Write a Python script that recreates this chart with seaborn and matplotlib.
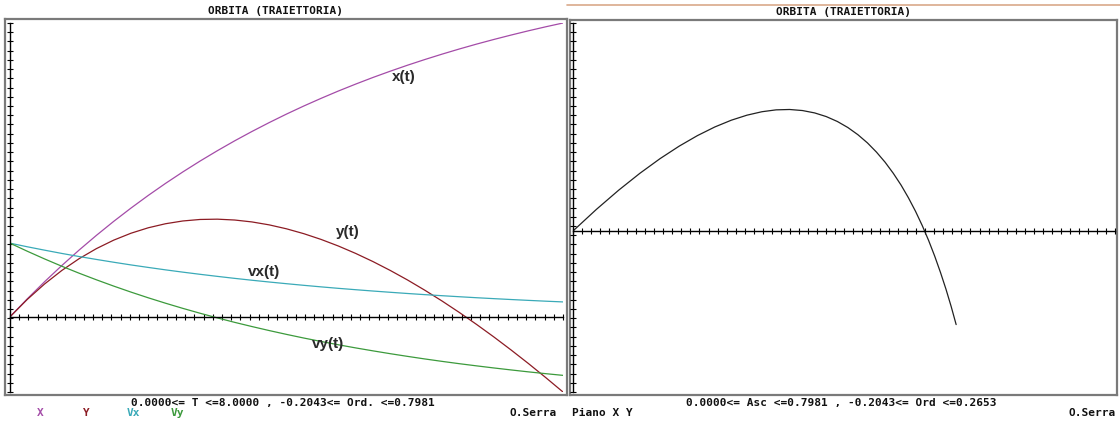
import numpy as np
import pandas as pd
import matplotlib
matplotlib.use('Agg')
import matplotlib.pyplot as plt
import seaborn as sns

sns.set_style('white')
plt.rcParams['font.family'] = ['DejaVu Sans Mono', 'DejaVu Sans']

# values (time step 0.25)
t = [0.0, 0.25, 0.5, 0.75, 1.0, 1.25, 1.5, 1.75, 2.0, 2.25, 2.5, 2.75, 3.0, 3.25, 3.5, 3.75,
     4.0, 4.25, 4.5, 4.75, 5.0, 5.25, 5.5, 5.75, 6.0, 6.25, 6.5, 6.75, 7.0, 7.25, 7.5, 7.75, 8.0]
x = [0.0, 0.0488, 0.0952, 0.1393, 0.1813, 0.2212, 0.2592, 0.2953, 0.3297, 0.3624, 0.3935,
     0.4231, 0.4512, 0.4780, 0.5034, 0.5276, 0.5507, 0.5726, 0.5934, 0.6133, 0.6321, 0.6501,
     0.6671, 0.6834, 0.6988, 0.7135, 0.7275, 0.7408, 0.7534, 0.7654, 0.7769, 0.7878, 0.7981]
y = [0.0, 0.0472, 0.0891, 0.1259, 0.1579, 0.1852, 0.2082, 0.2270, 0.2418, 0.2528, 0.2603,
     0.2644, 0.2652, 0.2629, 0.2577, 0.2497, 0.2390, 0.2258, 0.2102, 0.1923, 0.1722, 0.1501,
     0.1260, 0.1001, 0.0723, 0.0429, 0.0118, -0.0208, -0.0548, -0.0903, -0.1270, -0.1651, -0.2043]
vx = [0.2, 0.1902, 0.1810, 0.1721, 0.1637, 0.1558, 0.1482, 0.1409, 0.1341, 0.1275, 0.1213,
      0.1154, 0.1098, 0.1044, 0.0993, 0.0945, 0.0899, 0.0855, 0.0813, 0.0773, 0.0736, 0.0700,
      0.0666, 0.0633, 0.0602, 0.0573, 0.0545, 0.0518, 0.0493, 0.0469, 0.0446, 0.0424, 0.0404]
vy = [0.2, 0.1781, 0.1572, 0.1373, 0.1184, 0.1005, 0.0834, 0.0671, 0.0516, 0.0369, 0.0229,
      0.0096, -0.0030, -0.0151, -0.0265, -0.0374, -0.0478, -0.0577, -0.0670, -0.0760, -0.0845,
      -0.0925, -0.1002, -0.1075, -0.1145, -0.1211, -0.1274, -0.1333, -0.1390, -0.1444, -0.1496,
      -0.1545, -0.1591]

series = ['x', 'y', 'vx', 'vy']
colors = {'x': '#a44ca8', 'y': '#8c1c24', 'vx': '#3aaab8', 'vy': '#3c9a3c'}
labels = {'x': 'x(t)', 'y': 'y(t)', 'vx': 'vx(t)', 'vy': 'vy(t)'}
label_pos = {'x': (5.70, 0.651), 'y': (4.88, 0.230), 'vx': (3.68, 0.122), 'vy': (4.60, -0.074)}
legend = ['X', 'Y', 'Vx', 'Vy']

df = pd.DataFrame({'t': t, 'x': x, 'y': y, 'vx': vx, 'vy': vy})

W, H = 1120, 421
fig = plt.figure(figsize=(W / 100, H / 100), dpi=100)


def px_axes(x0, y0, x1, y1):
    return fig.add_axes([x0 / W, (H - y1) / H, (x1 - x0) / W, (y1 - y0) / H])


def px_text(px, py, s, **kw):
    fig.text(px / W, 1 - py / H, s, **kw)


def frame(x0, y0, x1, y1):
    f = px_axes(x0, y0, x1, y1)
    f.set_xticks([])
    f.set_yticks([])
    for sp in f.spines.values():
        sp.set_color('#7a7a7a')
        sp.set_linewidth(1.6)
    return f


def inner(x0, y0, x1, y1, xlim, ylim, nx, ny):
    ax = px_axes(x0, y0, x1, y1)
    ax.patch.set_alpha(0)
    ax.set_xlim(xlim)
    ax.set_ylim(ylim)
    ax.spines['top'].set_visible(False)
    ax.spines['right'].set_visible(False)
    ax.spines['left'].set_position(('data', 0))
    ax.spines['bottom'].set_position(('data', 0))
    for s in ['left', 'bottom']:
        ax.spines[s].set_color('black')
        ax.spines[s].set_linewidth(1.0)
    ax.set_xticks(np.linspace(xlim[0], xlim[1], nx))
    ax.set_yticks(np.linspace(ylim[0], ylim[1], ny))
    ax.tick_params(direction='inout', length=5, width=0.8, color='black',
                   labelbottom=False, labelleft=False, bottom=True, left=True)
    return ax


# left panel: time plot
frame(5, 19, 567, 395)
ax1 = inner(10, 23, 563, 392, (0, 8), (-0.2043, 0.7981), 61, 41)
for s in series:
    sns.lineplot(data=df, x='t', y=s, color=colors[s], lw=0.9, ax=ax1)
    ax1.text(*label_pos[s], labels[s], family='Liberation Sans', fontweight='bold',
             fontsize=11, ha='center', va='center', color='#2a2a2a')
ax1.set_xlabel('')
ax1.set_ylabel('')

# right panel: trajectory
frame(570, 20, 1117, 395)
ax2 = inner(573, 23, 1115, 392, (0, 1.129), (-0.3515, 0.454), 61, 41)
sns.lineplot(x=x, y=y, sort=False, color='#222222', lw=0.9, ax=ax2)
ax2.set_xlabel('')
ax2.set_ylabel('')

# thin line across the top of the right panel
fig.add_artist(plt.Line2D([567 / W, 1], [1 - 5 / H, 1 - 5 / H], color='#d9a98a', lw=1.2))

tkw = dict(fontsize=8, fontweight='bold', color='#111111', va='center')
px_text(275, 11, 'ORBITA (TRAIETTORIA)', ha='center', **tkw)
px_text(843, 12, 'ORBITA (TRAIETTORIA)', ha='center', **tkw)
px_text(283, 403, '0.0000<= T <=8.0000 , -0.2043<= Ord. <=0.7981', ha='center', **tkw)
px_text(841, 403, '0.0000<= Asc <=0.7981 , -0.2043<= Ord <=0.2653', ha='center', **tkw)
px_text(557, 413, 'O.Serra', ha='right', **tkw)
px_text(1116, 413, 'O.Serra', ha='right', **tkw)
px_text(572, 413, 'Piano X Y', ha='left', **tkw)

for lab, s, cx in zip(legend, series, [40, 86, 133, 177]):
    px_text(cx, 413, lab, ha='center', fontsize=8, fontweight='bold',
            color=colors[s], va='center')

fig.savefig('out.png', dpi=100)
